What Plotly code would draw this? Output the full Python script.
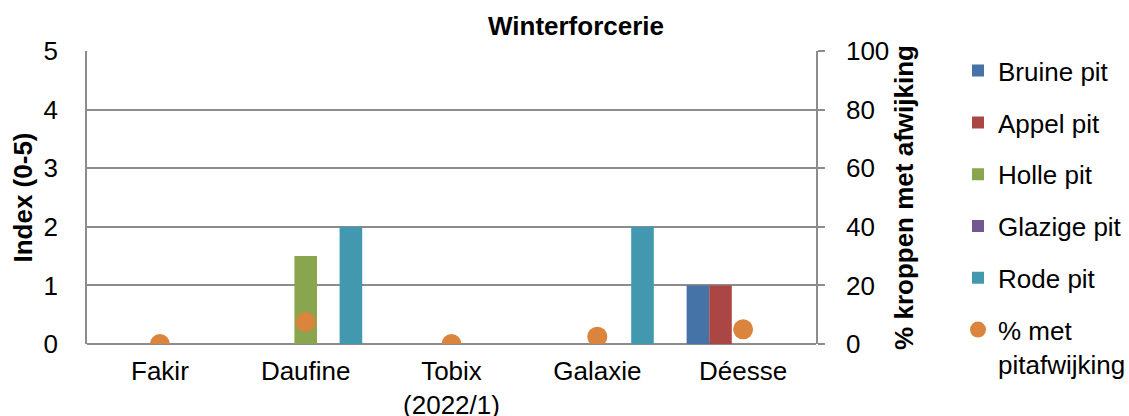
import plotly.graph_objects as go

categories = ["Fakir", "Daufine", "Tobix<br>(2022/1)", "Galaxie", "Déesse"]
bruine_pit = [0, 0, 0, 0, 1]
appel_pit = [0, 0, 0, 0, 1]
holle_pit = [0, 1.5, 0, 0, 0]
glazige_pit = [0, 0, 0, 0, 0]
rode_pit = [0, 2, 0, 2, 0]
pct_met_pitafwijking = [0, 7.5, 0, 2.5, 5]

series_names = ["Bruine pit", "Appel pit", "Holle pit", "Glazige pit", "Rode pit"]
series_values = [bruine_pit, appel_pit, holle_pit, glazige_pit, rode_pit]
series_colors = ["#4572A7", "#AA4643", "#89A54E", "#71588F", "#4198AF"]

FONT = "Liberation Sans, Arial, sans-serif"
GRID = "#8C8C8C"

fig = go.Figure()
for name, vals, col in zip(series_names, series_values, series_colors):
    fig.add_trace(go.Bar(x=categories, y=vals, name=name, marker_color=col,
                         marker_line_width=0, legendgroup=name))

fig.add_trace(go.Scatter(x=categories, y=pct_met_pitafwijking, name="% met<br>pitafwijking",
                         mode="markers", yaxis="y2", legendgroup="pct",
                         marker=dict(color="#DB843D", size=20)))

fig.update_layout(
    width=1129, height=416,
    margin=dict(l=87, r=313, t=51, b=72, autoexpand=False),
    paper_bgcolor="white", plot_bgcolor="white",
    font=dict(family=FONT, size=26, color="black"),
    barmode="group", bargap=0.225, bargroupgap=0,
    title=dict(text="Winterforcerie", x=576 / 1129, xref="container", xanchor="center",
               y=1 - 26 / 416, yref="container", yanchor="middle",
               font=dict(size=26, weight="bold", family=FONT)),
    xaxis=dict(showgrid=False, showline=False, ticks="", zeroline=False,
               tickfont=dict(size=26), ticklabelstandoff=9),
    yaxis=dict(range=[0, 5], dtick=1, showgrid=True, gridcolor=GRID, gridwidth=1.5,
               zeroline=True, zerolinecolor=GRID, zerolinewidth=1.5,
               showline=True, linecolor=GRID, linewidth=1.5, ticks="",
               ticklabelstandoff=22, tickfont=dict(size=26),
               title=dict(text="Index (0-5)", font=dict(size=26, weight="bold"), standoff=3)),
    yaxis2=dict(range=[0, 100], dtick=20, overlaying="y", side="right", showgrid=False,
                zeroline=False, showline=True, linecolor=GRID, linewidth=1.5,
                ticks="outside", ticklen=7, tickcolor=GRID, tickwidth=1.5,
                ticklabelstandoff=16, tickfont=dict(size=26),
                title=dict(text="% kroppen met afwijking", font=dict(size=26, weight="bold"), standoff=6)),
    legend=dict(x=(958 - 87) / 729, xanchor="left", y=1.013, yanchor="top",
                font=dict(size=26), tracegroupgap=15, valign="top",
                bgcolor="rgba(0,0,0,0)", maxheight=400),
    showlegend=True,
)

fig.write_html("out.html", config={"displayModeBar": False},
               post_script="document.body.style.margin='0';")
